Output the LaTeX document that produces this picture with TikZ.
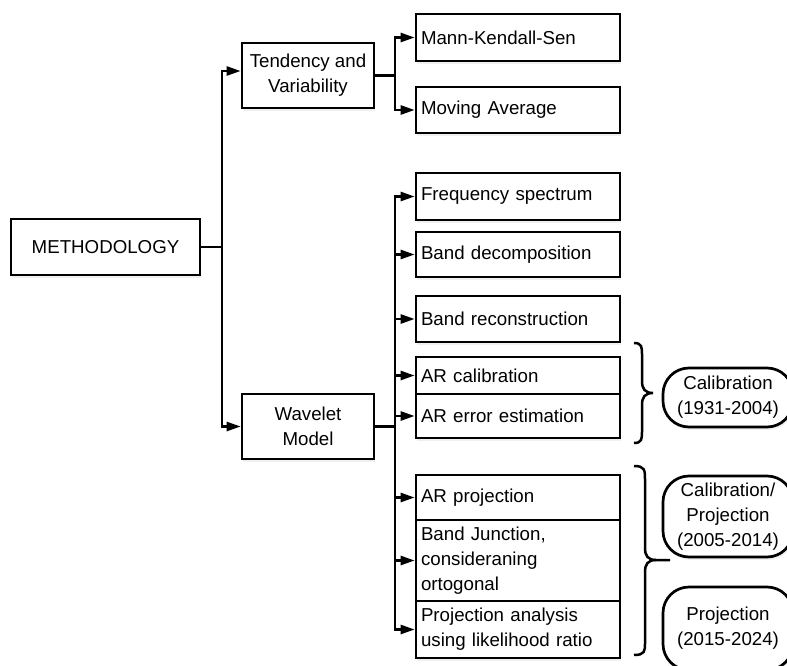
\documentclass[tikz,border=0pt]{standalone}
\usepackage{fontspec}
\setmainfont{Liberation Sans}
\usetikzlibrary{arrows.meta,shadows,calc}
\begin{document}
\begin{tikzpicture}[x=1pt,y=-1pt,
  font=\fontsize{18.7}{25}\selectfont,
  box/.style={draw=black, line width=2.7pt, fill=white, rectangle, inner xsep=0pt, inner ysep=2pt,
    drop shadow={shadow xshift=1pt, shadow yshift=-3pt, opacity=0.12}},
  lbox/.style={box, text width=194pt, inner xsep=5pt, align=left, minimum width=204pt},
  cbox/.style={box, align=center, minimum width=132pt},
  pill/.style={draw=black, line width=2.7pt, fill=white, rounded corners=26pt, minimum width=130pt,
    align=center, inner sep=0pt, drop shadow={shadow xshift=1pt, shadow yshift=-3pt, opacity=0.12}},
  con/.style={line width=2.5pt},
  arr/.style={con, -{Triangle[length=14pt,width=9pt]}},
  brc/.style={line width=2.5pt}
]
\useasboundingbox (0,0) rectangle (787,666);
\clip (0,0) rectangle (787,666);

% main nodes
\node[cbox, minimum height=56pt, minimum width=189pt] (meth) at (105.5,247) {METHODOLOGY};
\node[cbox, minimum height=65pt] (tv) at (308,75.5) {Tendency and\\Variability};
\node[cbox, minimum height=65pt] (wm) at (308,426.5) {Wavelet\\Model};

% right column
\node[lbox, minimum height=47pt] (mk) at (518,37.5) {Mann-Kendall-Sen};
\node[lbox, minimum height=46pt] (ma) at (518,110) {Moving Average};
\node[lbox, minimum height=47pt] (fs) at (518,196.5) {Frequency spectrum};
\node[lbox, minimum height=45pt] (bd) at (518,254.5) {Band decomposition};
\node[lbox, minimum height=46pt] (br) at (518,319) {Band reconstruction};
\node[lbox, minimum height=37pt] (arc) at (518,375.5) {AR calibration};
\node[lbox, minimum height=44pt] (are) at (518,416) {AR error estimation};
\node[lbox, minimum height=45pt] (arp) at (518,497.5) {AR projection};
\node[lbox, minimum height=81pt] (bj) at (518,560.5) {Band Junction,\\consideraning\\ortogonal};
\node[lbox, minimum height=57pt] (pa) at (518,629.5) {Projection analysis\\using likelihood ratio};

% pills
\node[pill, minimum height=59pt] (p1) at (728,397.5) {Calibration\\(1931-2004)};
\node[pill, minimum height=81pt] (p2) at (728,516.5) {Calibration/\\Projection\\(2005-2014)};
\node[pill, minimum height=83pt] (p3) at (728,628.5) {Projection\\(2015-2024)};

% connectors
\coordinate (j1) at (222,247);
\coordinate (j2) at (395,75.5);
\coordinate (j3) at (395,426.5);
\draw[con] (meth.east) -- (j1);
\draw[arr] (j1) |- ([yshift=4.5pt]tv.west);
\draw[arr] (j1) |- (wm.west);
\draw[con] (tv.east) -- (j2);
\draw[arr] (j2) |- (mk.west);
\draw[arr] (j2) |- (ma.west);
\draw[con] (wm.east) -- (j3);
\foreach \n in {fs,bd,br,arc,are,arp,bj,pa} \draw[arr] (j3) |- (\n.west);

% braces
\draw[brc] (634,343) .. controls (642,343) and (642,347) .. (642,355) -- (642,381)
  .. controls (642,389) and (645,393) .. (653,393)
  .. controls (645,393) and (642,397) .. (642,405) -- (642,431)
  .. controls (642,439) and (642,443) .. (634,443);
\draw[brc] (634,466) .. controls (645,466) and (645,470) .. (645,480) -- (645,548)
  .. controls (645,556) and (648,560) .. (656,560) -- (670,560);
\draw[brc] (656,560) .. controls (648,560) and (645,564) .. (645,572) -- (645,643)
  .. controls (645,651) and (645,655) .. (634,655);
\end{tikzpicture}
\end{document}
